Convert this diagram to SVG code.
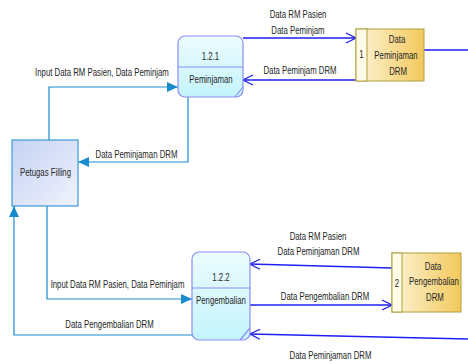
<svg xmlns="http://www.w3.org/2000/svg" width="468" height="364" viewBox="0 0 468 364">
<style>
text{font-family:"Liberation Sans",Arial,sans-serif;font-size:10px;fill:#262626;text-anchor:middle;transform-box:fill-box;transform-origin:center;transform:scaleX(0.78)}
.proc{fill:url(#gp);stroke:#8c8cf2;stroke-width:1.2}
.div{stroke:#8c8cf2;stroke-width:1.2;fill:none}
.store{fill:url(#gs);stroke:#b0a040;stroke-width:1}
.num{fill:#fffbe6;stroke:#b0a040;stroke-width:1}
.ent{fill:url(#ge);stroke:#3a9ad8;stroke-width:1.2}
.fs{stroke:#1e1ef0;stroke-width:1.5;fill:none;marker-end:url(#mo)}
.fe{stroke:#1a8ccc;stroke-width:1.2;fill:none;marker-end:url(#mf)}
</style>
<defs>
<linearGradient id="gp" x1="0" y1="0" x2="0" y2="1"><stop offset="0" stop-color="#ecfcff"/><stop offset="1" stop-color="#c4f4fc"/></linearGradient>
<linearGradient id="gs" x1="0" y1="0" x2="1" y2="0"><stop offset="0" stop-color="#fdf5d8"/><stop offset="1" stop-color="#f2c85a"/></linearGradient>
<linearGradient id="ge" x1="0" y1="0" x2="1" y2="1"><stop offset="0" stop-color="#c6d3f4"/><stop offset="1" stop-color="#f0f2fd"/></linearGradient>
<marker id="mo" markerWidth="12" markerHeight="12" refX="11" refY="6" orient="auto" markerUnits="userSpaceOnUse"><path d="M1,1 L11,6 L1,11" fill="none" stroke="#1e1ef0" stroke-width="1.3"/></marker>
<marker id="mf" markerWidth="12" markerHeight="10" refX="11" refY="5" orient="auto" markerUnits="userSpaceOnUse"><path d="M0,0 L11,5 L0,10 Z" fill="#1a8ccc"/></marker>
</defs>
<g id="connectors">
<line class="fs" x1="243" y1="38" x2="356" y2="38"/>
<line class="fs" x1="356" y1="80" x2="243" y2="80"/>
<line stroke="#1e1ef0" stroke-width="1.5" x1="424" y1="50" x2="468" y2="50"/>
<path class="fe" d="M49,140 V87 H178"/>
<path class="fe" d="M188,97 V162 H78"/>
<path class="fe" d="M47,206 V299 H192"/>
<path class="fe" d="M194,335 H14 V206"/>
<line class="fs" x1="392" y1="268" x2="250" y2="264"/>
<line class="fs" x1="250" y1="305" x2="392" y2="305"/>
<line class="fs" x1="468" y1="339" x2="250" y2="334"/>
<text x="298" y="18">Data RM Pasien</text>
<text x="298" y="34">Data Peminjam</text>
<text x="300" y="74">Data Peminjam DRM</text>
<text x="102" y="76">Input Data RM Pasien, Data Peminjam</text>
<text x="136.5" y="158">Data Peminjaman DRM</text>
<text x="117.5" y="288">Input Data RM Pasien, Data Peminjam</text>
<text x="109.5" y="328">Data Pengembalian DRM</text>
<text x="318" y="240">Data RM Pasien</text>
<text x="318.5" y="255">Data Peminjaman DRM</text>
<text x="325" y="300">Data Pengembalian DRM</text>
<text x="330.5" y="359">Data Peminjaman DRM</text>
</g>
<g id="p121">
<rect class="proc" x="178" y="36" width="65" height="61" rx="7"/>
<line class="div" x1="178" y1="67" x2="243" y2="67"/>
<line class="div" x1="243" y1="87" x2="235" y2="97"/>
<text x="210.5" y="60">1.2.1</text>
<text x="211" y="83">Peminjaman</text>
</g>
<g id="p122">
<rect class="proc" x="192" y="252" width="58" height="88" rx="7"/>
<line class="div" x1="192" y1="288" x2="250" y2="288"/>
<line class="div" x1="250" y1="328" x2="240" y2="340"/>
<text x="221" y="281">1.2.2</text>
<text x="221" y="304">Pengembalian</text>
</g>
<g id="s1">
<rect class="store" x="356" y="29" width="68" height="52"/>
<rect class="num" x="356" y="29" width="11" height="52"/>
<text x="361.5" y="58">1</text>
<text x="397" y="43">Data</text>
<text x="396" y="59">Peminjaman</text>
<text x="398" y="75">DRM</text>
</g>
<g id="s2">
<rect class="store" x="392" y="253" width="69" height="59"/>
<rect class="num" x="392" y="253" width="10" height="59"/>
<text x="397" y="287">2</text>
<text x="433" y="270">Data</text>
<text x="434" y="285">Pengembalian</text>
<text x="435" y="301">DRM</text>
</g>
<g id="entity">
<rect class="ent" x="12" y="140" width="66" height="66"/>
<text x="45.5" y="176">Petugas Filling</text>
</g>
</svg>
